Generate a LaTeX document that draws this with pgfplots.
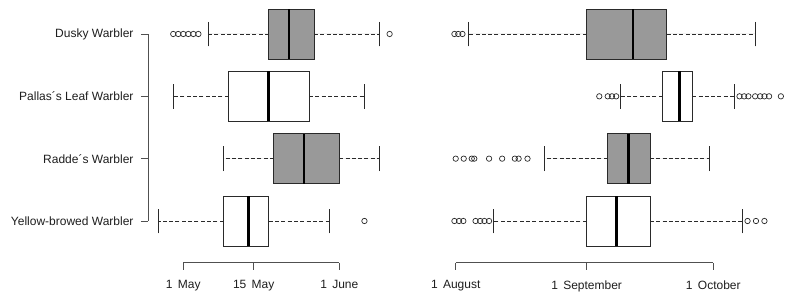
\documentclass[border=0pt]{standalone}
\usepackage{fontspec}
\setmainfont{Liberation Sans}
\usepackage{pgfplots}
\pgfplotsset{compat=1.18}
\usepgfplotslibrary{statistics}
\definecolor{boxgray}{HTML}{999999}
\definecolor{linecol}{HTML}{2A2A2A}
\definecolor{axiscol}{HTML}{505050}
\definecolor{textcol}{HTML}{1E1E1E}
\pgfplotsset{
  rbox/.style={
    scale only axis, height=257.7bp,
    ymin=0.331, ymax=4.465,
    axis line style={draw=none},
    tick align=outside,
    major tick length=7bp,
    tick style={axiscol, line width=0.8bp},
    xtick pos=left, ytick pos=left,
    tick label style={font=\fontsize{12bp}{14bp}\selectfont, text=textcol},
    xticklabel style={yshift=-7.5bp},
    yticklabel style={xshift=-4bp},
    clip=false,
    boxplot/draw direction=x,
    boxplot/box extend=0.8,
    boxplot/whisker extend=0.4,
    boxplot/every box/.style={draw=linecol, line width=0.8bp},
    boxplot/every median/.style={draw=black, line width=2.8bp},
    boxplot/every whisker/.style={draw=linecol, line width=0.8bp},
    boxplot/draw/lower whisker/.code={%
      \draw[/pgfplots/boxplot/every whisker/.try, dash pattern=on 4bp off 2.3bp]
        (boxplot box cs:\pgfplotsboxplotvalue{lower quartile},0.5) --
        (boxplot box cs:\pgfplotsboxplotvalue{lower whisker},0.5);
      \draw[/pgfplots/boxplot/every whisker/.try]
        (boxplot whisker cs:\pgfplotsboxplotvalue{lower whisker},0) --
        (boxplot whisker cs:\pgfplotsboxplotvalue{lower whisker},1);
    },
    boxplot/draw/upper whisker/.code={%
      \draw[/pgfplots/boxplot/every whisker/.try, dash pattern=on 4bp off 2.3bp]
        (boxplot box cs:\pgfplotsboxplotvalue{upper quartile},0.5) --
        (boxplot box cs:\pgfplotsboxplotvalue{upper whisker},0.5);
      \draw[/pgfplots/boxplot/every whisker/.try]
        (boxplot whisker cs:\pgfplotsboxplotvalue{upper whisker},0) --
        (boxplot whisker cs:\pgfplotsboxplotvalue{upper whisker},1);
    },
  },
  bx/.style={mark=o, mark size=2.7bp, mark options={draw=linecol, line width=0.7bp, solid, fill=none}},
}
\begin{document}
\begin{tikzpicture}
\path[use as bounding box] (0,0) rectangle (790bp,296bp);
% left panel: days since 1 May
\begin{axis}[rbox, at={(148bp,33.3bp)}, anchor=south west, width=252bp,
  xmin=-7.015, xmax=43.064,
  xtick={0,14,31}, xticklabels={1\ \,May, 15\ \,May, 1\ \,June},
  ytick={1,2,3,4},
  yticklabels={Yellow-browed Warbler, Radde´s Warbler, Pallas´s Leaf Warbler, Dusky Warbler}]
\addplot[bx, fill=boxgray, boxplot prepared={draw position=4, lower whisker=5, lower quartile=17, median=21, upper quartile=26, upper whisker=39}]
  table[row sep=\\, y index=0] {-2\\-1\\0\\1\\2\\3\\41\\};
\addplot[bx, fill=white, boxplot prepared={draw position=3, lower whisker=-2, lower quartile=9, median=17, upper quartile=25, upper whisker=36}]
  coordinates {};
\addplot[bx, fill=boxgray, boxplot prepared={draw position=2, lower whisker=8, lower quartile=18, median=24, upper quartile=31, upper whisker=39}]
  coordinates {};
\addplot[bx, fill=white, boxplot prepared={draw position=1, lower whisker=-5, lower quartile=8, median=13, upper quartile=17, upper whisker=29}]
  table[row sep=\\, y index=0] {36\\};
\draw[axiscol, line width=0.8bp] (axis cs:0,0.331) -- (axis cs:31,0.331);
\draw[axiscol, line width=0.8bp] (axis cs:-7.015,1) -- (axis cs:-7.015,4);
\end{axis}
% right panel: days since 1 August
\begin{axis}[rbox, at={(440bp,33.3bp)}, anchor=south west, width=346bp,
  xmin=-3.718, xmax=78.21,
  xtick={0,31,61}, xticklabels={1\ \,August, 1\ \,September, 1\ \,October},
  ytick=\empty]
\addplot[bx, fill=boxgray, boxplot prepared={draw position=4, lower whisker=3, lower quartile=31, median=42, upper quartile=50, upper whisker=71}]
  table[row sep=\\, y index=0] {-0.3\\0.6\\1.6\\};
\addplot[bx, fill=white, boxplot prepared={draw position=3, lower whisker=39, lower quartile=49, median=53, upper quartile=56, upper whisker=66}]
  table[row sep=\\, y index=0] {34\\36\\37\\38\\67.2\\68.3\\69.3\\70.9\\72.1\\73.1\\74.2\\77\\};
\addplot[bx, fill=boxgray, boxplot prepared={draw position=2, lower whisker=21, lower quartile=36, median=41, upper quartile=46, upper whisker=60}]
  table[row sep=\\, y index=0] {0\\1.9\\3.8\\4.4\\7.9\\11\\14\\14.9\\17\\};
\addplot[bx, fill=white, boxplot prepared={draw position=1, lower whisker=9, lower quartile=31, median=38, upper quartile=46, upper whisker=68}]
  table[row sep=\\, y index=0] {-0.3\\0.8\\1.8\\4.7\\5.8\\6.8\\7.9\\69.1\\71.1\\73.1\\};
\draw[axiscol, line width=0.8bp] (axis cs:0,0.331) -- (axis cs:61,0.331);
\end{axis}
\end{tikzpicture}
\end{document}
